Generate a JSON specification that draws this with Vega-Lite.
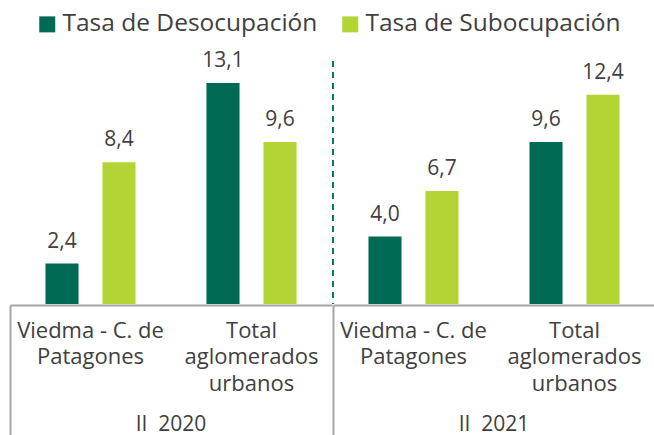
{
  "$schema": "https://vega.github.io/schema/vega-lite/v6.json",
  "padding": {"left": 9, "top": 12, "right": 0, "bottom": 0},
  "config": {
    "locale": {"number": {"decimal": ",", "thousands": ".", "grouping": [3], "currency": ["$", ""]}},
    "view": {"stroke": null},
    "font": "Open Sans"
  },
  "data": {"values": [
    {"periodo": "II\u00a0 2020", "categoria": "Viedma - C. de Patagones", "serie": "Tasa de Desocupación", "valor": 2.4},
    {"periodo": "II\u00a0 2020", "categoria": "Viedma - C. de Patagones", "serie": "Tasa de Subocupación", "valor": 8.4},
    {"periodo": "II\u00a0 2020", "categoria": "Total aglomerados urbanos", "serie": "Tasa de Desocupación", "valor": 13.1},
    {"periodo": "II\u00a0 2020", "categoria": "Total aglomerados urbanos", "serie": "Tasa de Subocupación", "valor": 9.6},
    {"periodo": "II\u00a0 2021", "categoria": "Viedma - C. de Patagones", "serie": "Tasa de Desocupación", "valor": 4.0},
    {"periodo": "II\u00a0 2021", "categoria": "Viedma - C. de Patagones", "serie": "Tasa de Subocupación", "valor": 6.7},
    {"periodo": "II\u00a0 2021", "categoria": "Total aglomerados urbanos", "serie": "Tasa de Desocupación", "valor": 9.6},
    {"periodo": "II\u00a0 2021", "categoria": "Total aglomerados urbanos", "serie": "Tasa de Subocupación", "valor": 12.4}
  ]},
  "facet": {
    "column": {
      "field": "periodo", "type": "nominal",
      "header": {"title": null, "labelOrient": "bottom", "labelFontSize": 21, "labelColor": "#404040", "labelFont": "Open Sans", "labelPadding": -24}
    }
  },
  "spacing": 0,
  "spec": {
    "width": 322,
    "height": 243,
    "encoding": {
      "x": {
        "field": "categoria", "type": "nominal",
        "sort": ["Viedma - C. de Patagones", "Total aglomerados urbanos"],
        "scale": {"paddingInner": 0, "paddingOuter": 0},
        "axis": {
          "title": null,
          "labelAngle": 0,
          "labelExpr": "datum.value == 'Viedma - C. de Patagones' ? ['Viedma - C. de', 'Patagones'] : ['Total', 'aglomerados', 'urbanos']",
          "labelFontSize": 22,
          "labelFont": "Open Sans",
          "labelColor": "#404040",
          "labelLineHeight": 26.5,
          "labelPadding": -117,
          "labelLimit": 0,
          "bandPosition": 0,
          "tickSize": 132,
          "tickWidth": 2,
          "tickColor": "#a6a6a6",
          "tickOpacity": {"condition": {"test": "datum.value == 'Viedma - C. de Patagones'", "value": 1}, "value": 0},
          "domainColor": "#a6a6a6",
          "domainWidth": 2
        }
      }
    },
    "layer": [
      {
        "mark": {"type": "bar"},
        "encoding": {
          "xOffset": {"field": "serie", "type": "nominal", "scale": {"paddingInner": 0.42, "paddingOuter": 0.622}},
          "y": {"field": "valor", "type": "quantitative", "scale": {"domain": [0, 14.4], "nice": false}, "axis": null},
          "color": {
            "field": "serie", "type": "nominal",
            "scale": {"domain": ["Tasa de Desocupación", "Tasa de Subocupación"], "range": ["#006a55", "#b4d335"]},
            "legend": {
              "title": null, "orient": "none", "direction": "horizontal",
              "legendX": 25, "legendY": -49,
              "symbolType": "square", "symbolSize": 256, "symbolStrokeWidth": 0,
              "labelFontSize": 24.5, "labelFont": "Open Sans", "labelColor": "#404040", "labelLimit": 0,
              "labelOffset": 3, "columnPadding": 20, "padding": 0
            }
          }
        }
      },
      {
        "mark": {"type": "text", "baseline": "bottom", "dy": -12, "fontSize": 21, "color": "#404040", "font": "Open Sans"},
        "encoding": {
          "xOffset": {"field": "serie", "type": "nominal"},
          "y": {"field": "valor", "type": "quantitative"},
          "text": {"field": "valor", "type": "quantitative", "format": ".1f"}
        }
      },
      {
        "transform": [{"filter": "indexof(datum.periodo, '2021') >= 0 && datum.categoria == 'Viedma - C. de Patagones' && datum.serie == 'Tasa de Desocupación'"}],
        "mark": {"type": "rule", "strokeDash": [6, 5], "strokeWidth": 2, "color": "#0a7a60"},
        "encoding": {
          "x": {"field": "categoria", "type": "nominal", "bandPosition": 0, "sort": ["Viedma - C. de Patagones", "Total aglomerados urbanos"]}
        }
      }
    ]
  }
}
